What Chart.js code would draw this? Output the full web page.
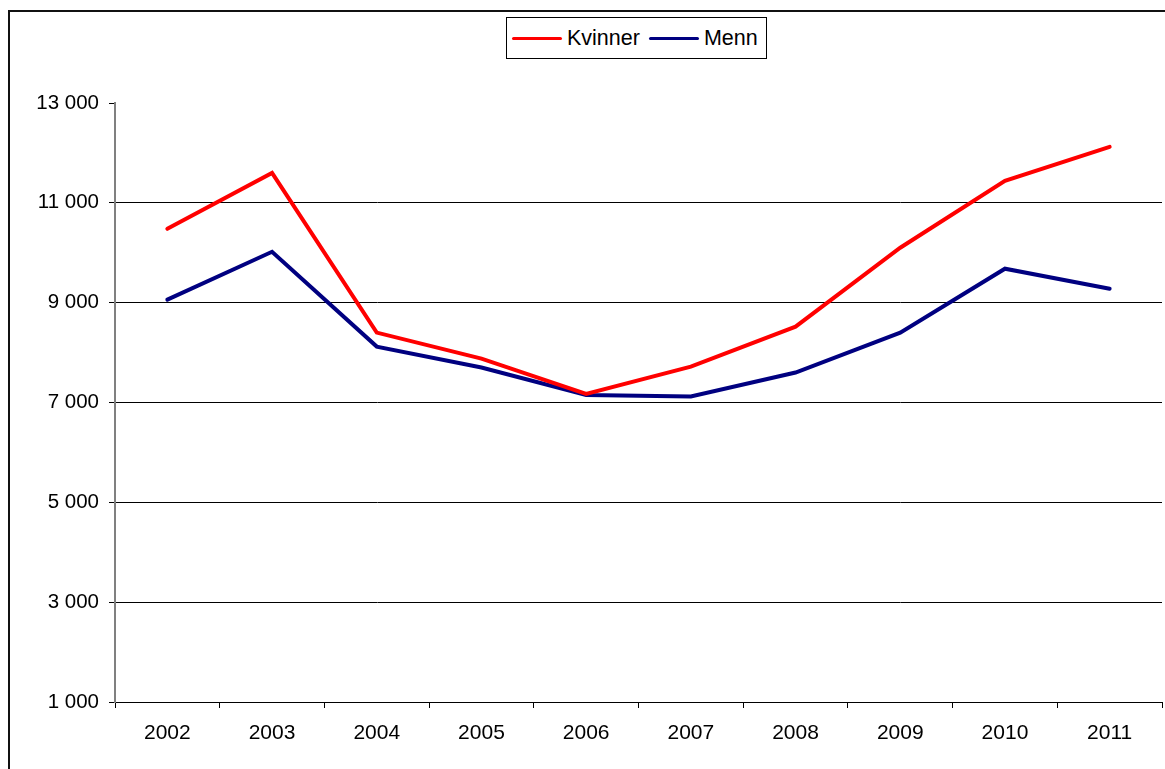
<!DOCTYPE html>
<html>
<head>
<meta charset="utf-8">
<script src="https://cdn.jsdelivr.net/npm/chart.js@4"></script>
<style>
  html, body { margin: 0; padding: 0; background: #fff; overflow: hidden; }
  #wrap { position: relative; width: 1165px; height: 769px; }
  #frame { position: absolute; left: 8px; top: 10px; width: 1200px; height: 800px; border: 2px solid #111; box-sizing: border-box; }
  #chart { position: absolute; left: 0; top: 0; }
  #legend { position: absolute; left: 506px; top: 17px; width: 261px; height: 42px; border: 1px solid #000; box-sizing: border-box;
            display: flex; align-items: center; font: 21.5px "Liberation Sans", Arial, sans-serif; color: #000; background: #fff; }
  #legend .item { display: flex; align-items: center; margin-left: 5px; }
  #legend .swatch { width: 50px; height: 3px; margin-right: 5px; border-radius: 2px; }
  #legend .item + .item { margin-left: 9px; }
</style>
</head>
<body>
<div id="wrap">
  <div id="frame"></div>
  <canvas id="chart" width="1165" height="769"></canvas>
  <div id="legend"></div>
</div>
<script>
// data
const years = ['2002', '2003', '2004', '2005', '2006', '2007', '2008', '2009', '2010', '2011'];
const kvinner = [10480, 11600, 8400, 7880, 7170, 7720, 8520, 10100, 11440, 12120];
const menn = [9060, 10020, 8120, 7700, 7150, 7120, 7600, 8400, 9680, 9280];
const yMin = 1000, yMax = 13000, yStep = 2000;

const fontFamily = '"Liberation Sans", Arial, sans-serif';

function fmt(v) {
    return String(v).replace(/\B(?=(\d{3})+(?!\d))/g, ' ');
}

const ctx = document.getElementById('chart').getContext('2d');
const chart = new Chart(ctx, {
    type: 'line',
    data: {
        labels: years,
        datasets: [{
            label: 'Kvinner',
            data: kvinner,
            borderColor: '#ff0000',
            backgroundColor: '#ff0000',
            borderWidth: 4,
            borderCapStyle: 'round',
            pointRadius: 0,
            tension: 0
        }, {
            label: 'Menn',
            data: menn,
            borderColor: '#000080',
            backgroundColor: '#000080',
            borderWidth: 4,
            borderCapStyle: 'round',
            pointRadius: 0,
            tension: 0
        }]
    },
    options: {
        responsive: false,
        animation: false,
        events: [],
        layout: { padding: { top: 103, left: 0, right: 3, bottom: 0 } },
        plugins: { legend: { display: false }, tooltip: { enabled: false } },
        scales: {
            x: {
                offset: true,
                afterFit: s => { s.height = 67; },
                grid: { offset: true, drawOnChartArea: false, drawTicks: true, tickLength: 6, color: '#000', tickColor: '#000' },
                border: { color: '#000', width: 1 },
                ticks: { color: '#000', padding: 13, font: { family: fontFamily, size: 21 }, maxRotation: 0 }
            },
            y: {
                min: yMin,
                max: yMax,
                afterFit: s => { s.width = 115; },
                grid: {
                    color: c => (c.tick && c.tick.value === yMax) ? 'rgba(0,0,0,0)' : '#000',
                    tickColor: '#000',
                    tickLength: 6,
                    lineWidth: 1
                },
                border: { color: '#808080', width: 2 },
                ticks: {
                    stepSize: yStep,
                    color: '#000',
                    padding: 10,
                    font: { family: fontFamily, size: 20.5 },
                    callback: v => fmt(v)
                }
            }
        }
    }
});

// legend from the chart's datasets
const legend = document.getElementById('legend');
chart.data.datasets.forEach(ds => {
    const item = document.createElement('div');
    item.className = 'item';
    item.innerHTML = '<span class="swatch" style="background:' + ds.borderColor + '"></span><span>' + ds.label + '</span>';
    legend.appendChild(item);
});
</script>
</body>
</html>
